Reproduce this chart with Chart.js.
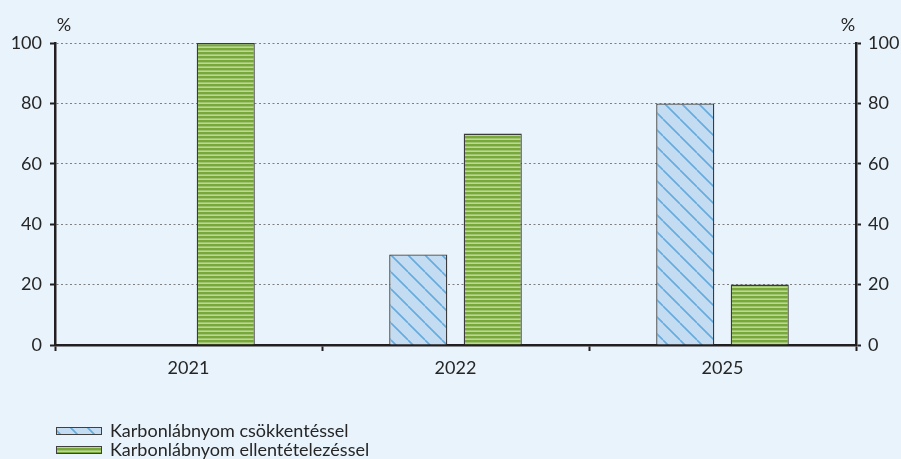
<!DOCTYPE html>
<html>
<head>
<meta charset="utf-8">
<script src="https://cdn.jsdelivr.net/npm/chart.js@4/dist/chart.umd.min.js"></script>
<style>
  html, body { margin: 0; padding: 0; background: #e9f3fb; }
  #wrap { width: 901px; height: 459px; position: relative; }
</style>
</head>
<body>
<div id="wrap"><canvas id="chart" width="901" height="459"></canvas></div>
<script>
// Years on the horizontal axis
const categories = ['2021', '2022', '2025'];
// Share of firms (%) by approach
const reductionValues = [null, 30, 80];
const offsetValues = [100, 70, 20];
const seriesNames = ['Karbonlábnyom csökkentéssel', 'Karbonlábnyom ellentételezéssel'];
const yTicks = [0, 20, 40, 60, 80, 100];
const unitLabel = '%';

const FONT = 'Lato, "Open Sans", sans-serif';
const TEXT = '#262626';
const AXIS = '#231f20';

// Diagonal hatch: light blue fill with "\" lines
function hatchPattern() {
  const s = 17;
  const c = document.createElement('canvas');
  c.width = s; c.height = s;
  const g = c.getContext('2d');
  g.fillStyle = '#c4dcf1';
  g.fillRect(0, 0, s, s);
  g.strokeStyle = '#66abde';
  g.lineWidth = 1.6;
  g.beginPath();
  for (const o of [-s, 0, s]) {
    g.moveTo(o, 0);
    g.lineTo(o + s, s);
  }
  g.stroke();
  return g.createPattern(c, 'repeat');
}

// Horizontal stripes: dark and light green
function stripePattern() {
  const c = document.createElement('canvas');
  c.width = 4; c.height = 4;
  const g = c.getContext('2d');
  g.fillStyle = '#bdd799';
  g.fillRect(0, 0, 4, 4);
  g.fillStyle = '#78a73a';
  g.fillRect(0, 0, 4, 2.4);
  return g.createPattern(c, 'repeat');
}

const fills = [hatchPattern(), stripePattern()];

// Draws the unit labels above both axes and the stacked legend below
const decorations = {
  id: 'decorations',
  afterDraw(chart) {
    const ctx = chart.ctx;
    const yl = chart.scales.y;
    const yr = chart.scales.y2;
    ctx.save();
    ctx.fillStyle = TEXT;
    ctx.font = '18px ' + FONT;
    ctx.textAlign = 'center';
    ctx.textBaseline = 'middle';
    ctx.fillText(unitLabel, yl.right + 9, 25);
    ctx.fillText(unitLabel, yr.left - 8, 25);

    // legend
    const lx = 56, boxW = 46, boxH = 8;
    ctx.font = '18px ' + FONT;
    seriesNames.forEach((name, i) => {
      const cy = 431 + i * 19;
      ctx.fillStyle = fills[i];
      ctx.fillRect(lx, cy - boxH / 2, boxW, boxH);
      ctx.strokeStyle = '#404040';
      ctx.lineWidth = 1;
      ctx.strokeRect(lx + 0.5, cy - boxH / 2 + 0.5, boxW - 1, boxH - 1);
      ctx.fillStyle = TEXT;
      ctx.textAlign = 'left';
      ctx.fillText(name, lx + boxW + 8, cy);
    });
    ctx.restore();
  }
};

new Chart(document.getElementById('chart'), {
  type: 'bar',
  data: {
    labels: categories,
    datasets: [
      {
        label: seriesNames[0],
        data: reductionValues,
        backgroundColor: fills[0],
        borderColor: '#3a3a3a',
        borderWidth: 1.3,
        yAxisID: 'y'
      },
      {
        label: seriesNames[1],
        data: offsetValues,
        backgroundColor: fills[1],
        borderColor: '#3a3a3a',
        borderWidth: 1.3,
        yAxisID: 'y'
      }
    ]
  },
  options: {
    responsive: false,
    animation: false,
    categoryPercentage: 0.558,
    barPercentage: 0.78,
    layout: { padding: { top: 43, bottom: 74, left: 0, right: 0 } },
    plugins: {
      legend: { display: false },
      tooltip: { enabled: false }
    },
    scales: {
      x: {
        offset: true,
        afterFit: s => { s.height = 40; },
        border: { display: true, color: AXIS, width: 2.5 },
        grid: {
          offset: true,
          drawOnChartArea: false,
          drawTicks: true,
          tickLength: 6,
          tickColor: AXIS,
          tickWidth: 2
        },
        ticks: { color: TEXT, font: { family: FONT, size: 18 }, padding: 6 }
      },
      y: {
        position: 'left',
        min: 0, max: 100,
        afterFit: s => { s.width = 55; },
        afterBuildTicks: s => { s.ticks = yTicks.map(v => ({ value: v })); },
        border: { display: true, color: AXIS, width: 2.5, dash: [2, 2.5] },
        grid: {
          color: '#7f7f7f',
          lineWidth: 1,
          drawTicks: true,
          tickLength: 5,
          tickColor: AXIS,
          tickWidth: 2,
          tickBorderDash: []
        },
        ticks: { color: TEXT, font: { family: FONT, size: 18 }, padding: 8 }
      },
      y2: {
        position: 'right',
        min: 0, max: 100,
        afterFit: s => { s.width = 45; },
        afterBuildTicks: s => { s.ticks = yTicks.map(v => ({ value: v })); },
        border: { display: true, color: AXIS, width: 2.5 },
        grid: {
          drawOnChartArea: false,
          drawTicks: true,
          tickLength: 5,
          tickColor: AXIS,
          tickWidth: 2
        },
        ticks: { color: TEXT, font: { family: FONT, size: 18 }, padding: 7 }
      }
    }
  },
  plugins: [decorations]
});
</script>
</body>
</html>
